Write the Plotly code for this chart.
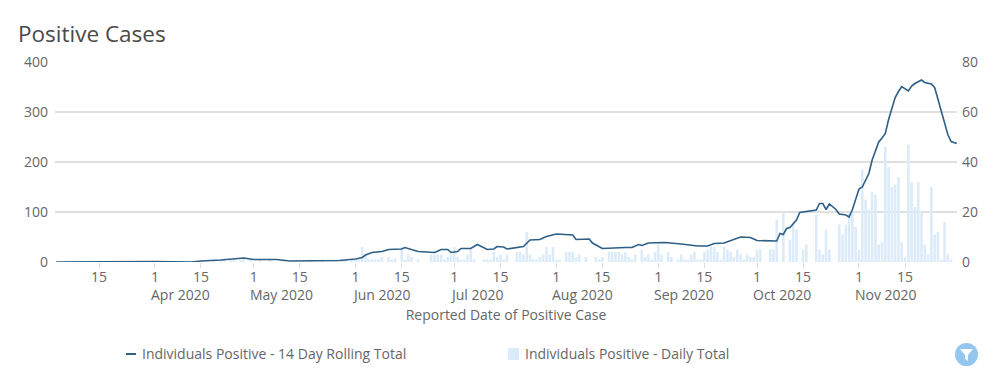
import plotly.graph_objects as go
import pandas as pd

TITLE = "Positive Cases"
X_TITLE = "Reported Date of Positive Case"
LINE_NAME = "Individuals Positive - 14 Day Rolling Total"
BAR_NAME = "Individuals Positive - Daily Total"

rolling_dates = ["2020-03-02","2020-03-25","2020-04-01","2020-04-12","2020-04-15","2020-04-21","2020-04-28","2020-05-01",
    "2020-05-08","2020-05-12","2020-05-20","2020-05-27","2020-06-01","2020-06-03","2020-06-04","2020-06-06","2020-06-09",
    "2020-06-11","2020-06-15","2020-06-16","2020-06-20","2020-06-25","2020-06-27","2020-06-29","2020-06-30","2020-07-02",
    "2020-07-03","2020-07-06","2020-07-08","2020-07-11","2020-07-13","2020-07-14","2020-07-16","2020-07-17","2020-07-22",
    "2020-07-24","2020-07-27","2020-07-29","2020-08-01","2020-08-06","2020-08-07","2020-08-11","2020-08-12","2020-08-15",
    "2020-08-22","2020-08-24","2020-08-26","2020-08-27","2020-08-29","2020-09-03","2020-09-08","2020-09-13","2020-09-16",
    "2020-09-18","2020-09-21","2020-09-23","2020-09-26","2020-09-29","2020-10-01","2020-10-07","2020-10-08","2020-10-09",
    "2020-10-10","2020-10-11","2020-10-13","2020-10-14","2020-10-19","2020-10-20","2020-10-21","2020-10-22","2020-10-23",
    "2020-10-25","2020-10-26","2020-10-28","2020-10-29","2020-10-30","2020-10-31","2020-11-01","2020-11-02","2020-11-03",
    "2020-11-04","2020-11-05","2020-11-06","2020-11-07","2020-11-08","2020-11-09","2020-11-10","2020-11-11","2020-11-12",
    "2020-11-13","2020-11-14","2020-11-16","2020-11-17","2020-11-18","2020-11-20","2020-11-21","2020-11-22","2020-11-23",
    "2020-11-24","2020-11-25","2020-11-26","2020-11-27","2020-11-28","2020-11-29","2020-11-30 18:00"]
rolling_values = [0,1,1,0,2,4,8,5,
    5,2,2,3,6,9,14,19,21,
    25,26,29,21,19,25,25,19,21,
    27,27,35,25,26,31,30,26,31,
    44,45,51,56,54,45,46,38,27,
    29,29,35,33,38,39,36,32,32,
    37,38,43,50,49,43,42,57,55,
    67,69,84,99,104,117,117,105,116,
    105,96,94,90,105,127,146,150,163,
    177,204,222,240,248,257,285,307,329,
    341,351,342,352,357,364,359,357,356,
    349,325,303,281,255,241,237]

bar_start = "2020-04-18"
daily_apr_may = [0,1,0,1,1,0,1,1,0,1,1,0,1,0,0,1,0,0,1,0,0,0,1,0,0,0,1,0,0,0,1,0,0,0,1,0,0,0,1,0,1,1,0,1]
daily_jun = [1,1,6,3,1,1,1,1,2,0,2,1,1.5,0,6,1,3,2,0,1,0,0,0,3,3,3,3,1,2,3]
daily_jul = [6,2,1,1,3,5,1,0,0,1,1,1,4,2,3,1,3,0,0,4,4,3,12,3,1,1,2,3,6,3,6]
daily_aug = [1,1,0,4,4,4,2,3,0,2,0,0,2,1,2,0,4,4,4,4,3,4,2,1,3,0,5,2,3,1,4]
daily_sep = [7,3,0,4,2,0,1,3,1,1,3,4,1,1,4,5,6,6,4,1,6,5,4,2,5,3,1,3,2,2]
daily_oct = [5,5,0,0,5,5,17,0,20,0,9,15,13,0,5,7,0,0,19,5,3,13,5,0,0,15,11,15,20,20,14]
daily_nov = [5,37,25,21,28,27,7,8,46,38,30,31,34,8,2,47,32,22,32,20,7,3,30,11,12,1,16,3,1]
daily_values = daily_apr_may + daily_jun + daily_jul + daily_aug + daily_sep + daily_oct + daily_nov
bar_dates = pd.date_range(bar_start, periods=len(daily_values)).strftime("%Y-%m-%d").tolist()

tick_dates = ["2020-03-15","2020-04-01","2020-04-15","2020-05-01","2020-05-15","2020-06-01","2020-06-15","2020-07-01",
    "2020-07-15","2020-08-01","2020-08-15","2020-09-01","2020-09-15","2020-10-01","2020-10-15","2020-11-01","2020-11-15"]
tick_labels = ["15","1","15","1","15","1","15","1","15","1","15","1","15","1","15","1","15"]
month_dates = ["2020-04-01","2020-05-01","2020-06-01","2020-07-01","2020-08-01","2020-09-01","2020-10-01","2020-11-01"]
month_labels = ["Apr 2020","May 2020","Jun 2020","Jul 2020","Aug 2020","Sep 2020","Oct 2020","Nov 2020"]

FONT = "Open Sans"
L, R, T, B = 55, 957, 62, 262
W, H = 1000, 383
def px(x): return (x - L) / (R - L)
def py(y): return (B - y) / (B - T)

fig = go.Figure()
fig.add_trace(go.Scatter(x=rolling_dates, y=rolling_values, name=LINE_NAME, mode="lines", yaxis="y2",
                         line=dict(color="#2e5f87", width=1.6), showlegend=False))
fig.add_trace(go.Bar(x=bar_dates, y=daily_values, name=BAR_NAME, yaxis="y", marker=dict(color="#dcebf9", line_width=0),
                     showlegend=False))

tick_font = dict(family=FONT, size=14, color="#666666")
month_annotations = [
    dict(text=m, x=d, xref="x", yref="paper", y=py(294), xanchor="left", yanchor="middle", xshift=-6,
         showarrow=False, font=tick_font)
    for d, m in zip(month_dates, month_labels)
]
fig.update_layout(
    width=W, height=H, autosize=False, margin=dict(l=L, r=W-R, t=T, b=H-B), bargap=0.22,
    paper_bgcolor="white", plot_bgcolor="white", font=dict(family=FONT),
    xaxis=dict(type="date", range=["2020-03-01 15:00","2020-11-30 19:00"], tickmode="array", tickvals=tick_dates,
               ticktext=tick_labels, ticks="outside", ticklen=5, tickcolor="#dddddd", tickwidth=1, showgrid=False,
               zeroline=False, showline=False, tickfont=tick_font, ticklabelstandoff=-3,
               title=dict(text=X_TITLE, font=dict(family=FONT, size=14, color="#666666"), standoff=25)),
    yaxis=dict(side="right", range=[0,80], tickvals=[0,20,40,60,80], showgrid=True, gridcolor="#e0e0e0", gridwidth=1.5,
               zeroline=False, tickfont=tick_font, ticks="", showline=False, ticklabelstandoff=4),
    yaxis2=dict(side="left", overlaying="y", range=[0,400], tickvals=[0,100,200,300,400], showgrid=False,
                zeroline=False, tickfont=tick_font, ticks="", showline=False, ticklabelstandoff=6),
    annotations=[
        dict(text=TITLE, xref="paper", yref="paper", x=px(16), y=py(33.5), xanchor="left", yanchor="middle",
             showarrow=False, font=dict(family=FONT, size=22.5, color="#4a4a4a")),
        dict(text=LINE_NAME, xref="paper", yref="paper", x=px(139.5), y=py(353.5), xanchor="left", yanchor="middle",
             showarrow=False, font=dict(family=FONT, size=14, color="#666666")),
        dict(text=BAR_NAME, xref="paper", yref="paper", x=px(522.5), y=py(353.5), xanchor="left", yanchor="middle",
             showarrow=False, font=dict(family=FONT, size=14, color="#666666")),
    ] + month_annotations,
    shapes=[
        dict(type="line", xref="paper", yref="paper", x0=px(126), x1=px(136), y0=py(354), y1=py(354),
             line=dict(color="#2e5f87", width=2)),
        dict(type="rect", xref="paper", yref="paper", x0=px(508), x1=px(519), y0=py(348), y1=py(360),
             fillcolor="#dcebf9", line_width=0),
        dict(type="circle", xref="paper", yref="paper", x0=px(955), x1=px(978), y0=py(343), y1=py(366),
             fillcolor="#93c7f0", line_width=0),
        dict(type="path", xref="paper", yref="paper", fillcolor="white", line_width=0,
             path=f"M {px(960)} {py(349)} L {px(973)} {py(349)} L {px(968)} {py(355)} L {px(968)} {py(361)} "
                  f"L {px(965)} {py(359)} L {px(965)} {py(355)} Z"),
    ],
)
fig.write_html("out.html", config=dict(displayModeBar=False),
               post_script="document.body.style.margin='0';document.documentElement.style.overflow='hidden';")
